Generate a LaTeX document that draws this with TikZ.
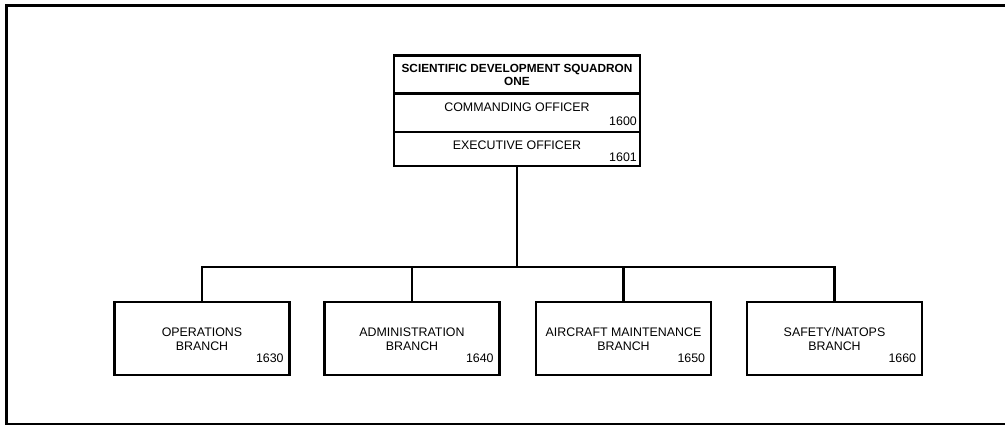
\documentclass[tikz,border=0pt]{standalone}
\usepackage{fontspec}
\setmainfont{Liberation Sans}
\begin{document}
\begin{tikzpicture}[x=1pt,y=-1pt,
  lbl/.style={font=\fontsize{12.4}{14}\selectfont, align=center, inner sep=0pt},
  num/.style={font=\fontsize{12.4}{14}\selectfont, anchor=east, inner sep=0pt},
  box/.style={draw, line width=2.6pt, inner sep=0pt},
  conn/.style={line width=2.6pt}]
\useasboundingbox (0,0) rectangle (1005,426);
% outer frame (right side runs off the picture)
\draw[line width=2.6pt] (1010,5.5) -- (6.5,5.5) -- (6.5,424) -- (1010,424);
% top box
\node[box, minimum width=246pt, minimum height=38pt] (hdr) at (517,74.5) {};
\node[box, minimum width=246pt, minimum height=38pt] (co) at (517,113) {};
\node[box, minimum width=246pt, minimum height=34pt] (xo) at (517,149) {};
\node[lbl, font=\fontsize{11.8}{13.5}\selectfont\bfseries] (hdrt) at (517,75) {SCIENTIFIC DEVELOPMENT SQUADRON\\ONE};
\node[lbl] (cot) at (517,107) {COMMANDING OFFICER};
\node[num] (con) at (637,121) {1600};
\node[lbl] (xot) at (517,145) {EXECUTIVE OFFICER};
\node[num] (xon) at (637,157) {1601};
% branches
\foreach \n/\cx/\t/\nm in {b1/202/{OPERATIONS\\BRANCH}/1630,
                          b2/412/{ADMINISTRATION\\BRANCH}/1640,
                          b3/623.5/{AIRCRAFT MAINTENANCE\\BRANCH}/1650,
                          b4/834.5/{SAFETY/NATOPS\\BRANCH}/1660}{
  \node[box, minimum width=175pt, minimum height=73pt] (\n) at (\cx,338.5) {};
  \node[lbl] (\n t) at (\cx,339) {\t};
  \node[num] (\n n) at ([xshift=-7pt,yshift=-20pt]\n.east) {\nm};
}
\coordinate (bar) at (517,267);
\draw[conn] (xo.south) -- (bar);
\draw[conn] (b1.north) |- (b4.north |- bar) -- (b4.north);
\draw[conn] (b2.north) -- (b2.north |- bar);
\draw[conn] (b3.north) -- (b3.north |- bar);
\end{tikzpicture}
\end{document}
